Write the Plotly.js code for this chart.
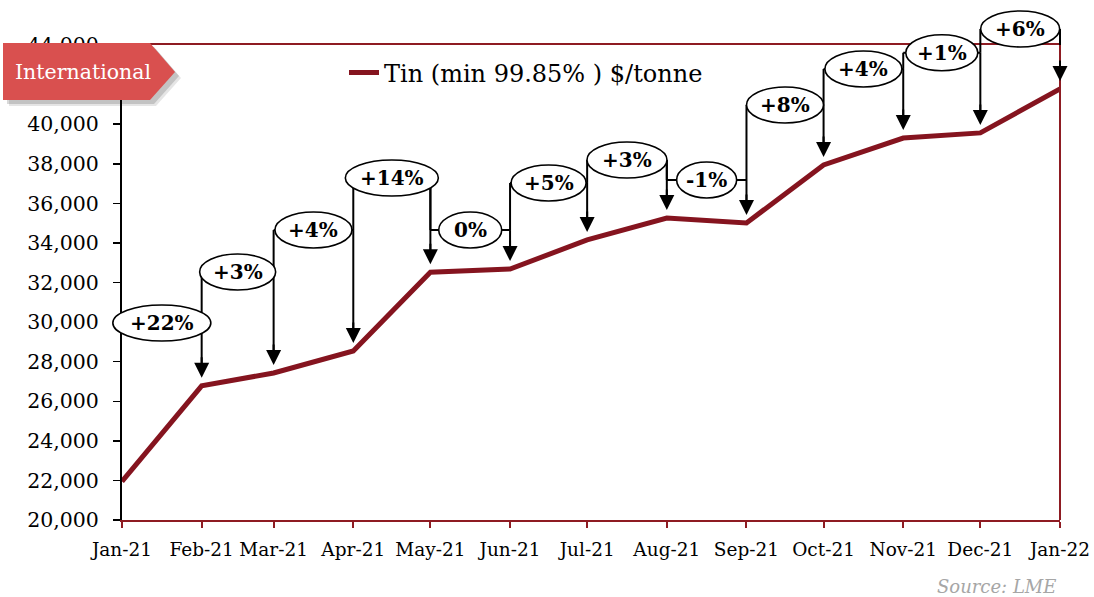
<!DOCTYPE html>
<html><head><meta charset="utf-8">
<script src="https://cdn.plot.ly/plotly-3.0.1.min.js"></script>
<style>html,body{margin:0;padding:0;background:#fff}#chart{width:1094px;height:597px}</style>
</head><body><div id="chart"></div>
<script>
// ---- data ----
const months = ['2021-01-01','2021-02-01','2021-03-01','2021-04-01','2021-05-01','2021-06-01','2021-07-01','2021-08-01','2021-09-01','2021-10-01','2021-11-01','2021-12-01','2022-01-01'];
const monthLabels = ['Jan-21','Feb-21','Mar-21','Apr-21','May-21','Jun-21','Jul-21','Aug-21','Sep-21','Oct-21','Nov-21','Dec-21','Jan-22'];
const tinPrice = [21950, 26780, 27430, 28540, 32520, 32680, 34150, 35260, 35010, 37940, 39300, 39560, 41780];
const changeLabels = ['+22%','+3%','+4%','+14%','0%','+5%','+3%','-1%','+8%','+4%','+1%','+6%'];
const seriesName = 'Tin (min 99.85% ) $/tonne';
const yMin = 20000, yMax = 44000, yStep = 2000;

// ---- layout config (positions / sizes, not data) ----
const calloutLevels = [29950, 32530, 34650, 37280, 34650, 37030, 38190, 37180, 40970, 42790, 43610, 44810];
const ovalWidthsPx = [98, 76, 77, 93, 63, 75, 80, 60, 77, 77, 72, 79];
const W = 1094, H = 597, M = {l:122, r:34, t:45, b:77};
const plotW = W - M.l - M.r, plotH = H - M.t - M.b;
const FONT = 'DejaVu Serif, Georgia, serif';
const RED_AXIS = '#8E1B22', LINE_COL = '#85141F', BANNER = '#D9504F';

const ms = d => new Date(d + 'T00:00:00Z').getTime();
const t0 = ms(months[0]), t1 = ms(months[months.length-1]);
const xP = t => (t - t0) / (t1 - t0);
const yP = v => (v - yMin) / (yMax - yMin);
const pxX = px => (px - M.l) / plotW;
const pxY = py => (H - M.b - py) / plotH;

const shapes = [];
const annotations = [];
const lineStyle = {color:'#000', width:2};

// bracket lines
for (let i = 0; i < changeLabels.length; i++) {
  const xa = ms(months[i]), xb = ms(months[i+1]), lvl = calloutLevels[i];
  shapes.push({type:'line', xref:'paper', yref:'paper', x0:xP(xa), x1:xP(xb), y0:yP(lvl), y1:yP(lvl), line:lineStyle, layer:'above'});
  if (i > 0) shapes.push({type:'line', xref:'paper', yref:'paper', x0:xP(xa), x1:xP(xa), y0:yP(lvl), y1:yP(calloutLevels[i-1]), line:lineStyle, layer:'above'});
  shapes.push({type:'line', xref:'paper', yref:'paper', x0:xP(xb), x1:xP(xb), y0:yP(lvl), y1:yP(tinPrice[i+1]) + 14/plotH, line:lineStyle, layer:'above'});
}
// ovals
for (let i = 0; i < changeLabels.length; i++) {
  const mid = (ms(months[i]) + ms(months[i+1])) / 2, w = ovalWidthsPx[i];
  shapes.push({type:'circle', xref:'paper', yref:'paper', xsizemode:'pixel', ysizemode:'pixel',
    xanchor:xP(mid), yanchor:yP(calloutLevels[i]), x0:-w/2, x1:w/2, y0:-18, y1:18,
    fillcolor:'#fff', line:{color:'#000', width:1.6}, layer:'above'});
  annotations.push({xref:'paper', yref:'paper', x:xP(mid), y:yP(calloutLevels[i]), text:'<b>'+changeLabels[i]+'</b>',
    showarrow:false, font:{family:FONT, size:20, color:'#000'}, xanchor:'center', yanchor:'middle'});
  annotations.push({xref:'x', yref:'y', x:months[i+1], y:tinPrice[i+1], text:'', showarrow:true,
    ax:0, ay:-30, arrowhead:2, arrowsize:1.5, arrowwidth:2, arrowcolor:'#000', standoff:8});
}
// right border
shapes.push({type:'line', xref:'paper', yref:'paper', x0:1, x1:1, y0:0, y1:1, line:{color:RED_AXIS, width:2}, layer:'above'});

// banner with shadow
const bannerPath = (dx, dy) => {
  const p = [[3,43],[150,43],[175,72],[150,100],[3,100]].map(([x,y]) => [pxX(x+dx), pxY(y+dy)]);
  return 'M' + p.map(q => q[0].toFixed(5)+','+q[1].toFixed(5)).join(' L') + ' Z';
};
shapes.push({type:'path', xref:'paper', yref:'paper', path:bannerPath(6,6), fillcolor:'rgba(0,0,0,0.10)', line:{width:0}, layer:'above'});
shapes.push({type:'path', xref:'paper', yref:'paper', path:bannerPath(4,4), fillcolor:'rgba(0,0,0,0.15)', line:{width:0}, layer:'above'});
shapes.push({type:'path', xref:'paper', yref:'paper', path:bannerPath(0,0), fillcolor:BANNER, line:{width:0}, layer:'above'});
annotations.push({xref:'paper', yref:'paper', x:pxX(83), y:pxY(72), text:'International', showarrow:false,
  font:{family:FONT, size:20.5, color:'#fff'}, xanchor:'center', yanchor:'middle'});
annotations.push({xref:'paper', yref:'paper', x:pxX(1058), y:pxY(586), text:'<i>Source: LME</i>', showarrow:false,
  font:{family:FONT, size:18, color:'#A6A6A6'}, xanchor:'right', yanchor:'middle'});

const trace = {x:months, y:tinPrice, type:'scatter', mode:'lines', name:seriesName,
  line:{color:LINE_COL, width:5}, showlegend:true, hoverinfo:'skip'};

const layout = {
  width:W, height:H, margin:M, paper_bgcolor:'#fff', plot_bgcolor:'#fff',
  font:{family:FONT, color:'#000'},
  showlegend:true,
  legend:{x:pxX(344), y:pxY(73), xanchor:'left', yanchor:'middle', orientation:'h',
    font:{family:FONT, size:24, color:'#000'}, bgcolor:'rgba(0,0,0,0)'},
  xaxis:{type:'date', range:[months[0], months[months.length-1]], tickmode:'array', tickvals:months, ticktext:monthLabels,
    tickangle:0, automargin:false,
    showline:true, linecolor:RED_AXIS, linewidth:2, mirror:true, ticks:'outside', ticklen:6, tickwidth:2, tickcolor:RED_AXIS,
    showgrid:false, zeroline:false, tickfont:{family:FONT, size:18.5, color:'#000'}, ticklabelstandoff:6, fixedrange:true},
  yaxis:{range:[yMin, yMax], dtick:yStep, tick0:yMin, tickformat:',d', showline:true, linecolor:'#000', linewidth:2,
    ticks:'outside', ticklen:7, tickwidth:1.5, tickcolor:'#000', showgrid:false, zeroline:false,
    tickfont:{family:FONT, size:20.5, color:'#000'}, ticklabelstandoff:10, fixedrange:true},
  shapes:shapes, annotations:annotations
};
Plotly.newPlot('chart', [trace], layout, {displayModeBar:false, staticPlot:true});
</script></body></html>
